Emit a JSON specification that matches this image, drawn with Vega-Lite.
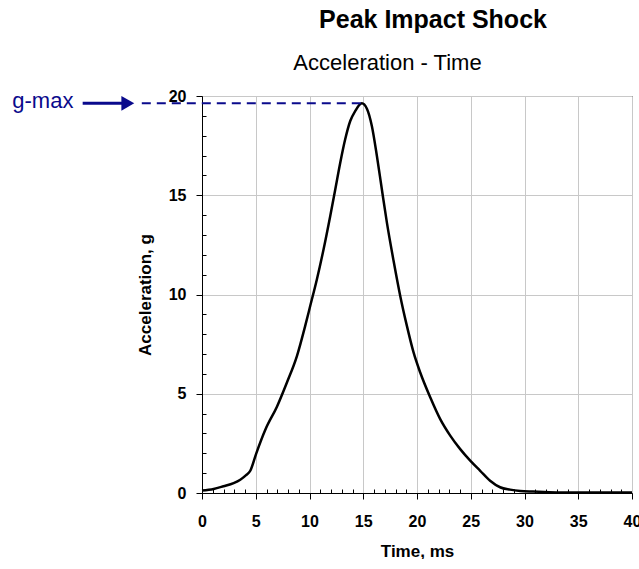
{
  "$schema": "https://vega.github.io/schema/vega-lite/v6.json",
  "width": 430,
  "height": 397,
  "padding": {"left": 12, "top": 8, "right": 0, "bottom": 0},
  "background": "white",
  "title": {
    "text": "Peak Impact Shock",
    "font": "Liberation Sans",
    "fontSize": 25,
    "fontWeight": "bold",
    "color": "black",
    "anchor": "middle",
    "dx": 16,
    "offset": 18
  },
  "config": {
    "view": {"stroke": "black", "strokeWidth": 1},
    "axis": {
      "labelFont": "Liberation Sans",
      "labelFontWeight": "bold",
      "labelFontSize": 16,
      "labelColor": "black",
      "titleFont": "Liberation Sans",
      "titleFontWeight": "bold",
      "titleFontSize": 17,
      "titleColor": "black",
      "domainColor": "black",
      "tickColor": "black",
      "gridColor": "#c8c8c8",
      "gridWidth": 1
    }
  },
  "resolve": {"axis": {"x": "independent", "y": "independent"}},
  "layer": [
    {
      "data": {
        "values": [
          {"t": 0, "g": 0.12}, {"t": 1.08, "g": 0.2}, {"t": 2.0, "g": 0.34}, {"t": 2.94, "g": 0.5},
          {"t": 3.56, "g": 0.67}, {"t": 4.1, "g": 0.9}, {"t": 4.49, "g": 1.12}, {"t": 5.05, "g": 2.0},
          {"t": 5.9, "g": 3.2}, {"t": 6.97, "g": 4.35}, {"t": 7.9, "g": 5.57}, {"t": 8.83, "g": 6.9},
          {"t": 9.6, "g": 8.42}, {"t": 10.07, "g": 9.43}, {"t": 10.69, "g": 10.77}, {"t": 11.31, "g": 12.28},
          {"t": 11.93, "g": 13.96}, {"t": 12.4, "g": 15.3}, {"t": 12.86, "g": 16.64}, {"t": 13.32, "g": 17.82},
          {"t": 13.79, "g": 18.74}, {"t": 14.25, "g": 19.24}, {"t": 14.87, "g": 19.63}, {"t": 15.34, "g": 19.36},
          {"t": 15.8, "g": 18.49}, {"t": 16.27, "g": 16.98}, {"t": 16.73, "g": 15.3}, {"t": 17.2, "g": 13.62},
          {"t": 17.82, "g": 11.7}, {"t": 18.44, "g": 9.93}, {"t": 19.06, "g": 8.42}, {"t": 19.68, "g": 7.08},
          {"t": 20.3, "g": 6.07}, {"t": 21.23, "g": 4.82}, {"t": 22.16, "g": 3.72}, {"t": 23.09, "g": 2.89},
          {"t": 24.02, "g": 2.21}, {"t": 24.95, "g": 1.63}, {"t": 25.88, "g": 1.12}, {"t": 26.8, "g": 0.62},
          {"t": 27.73, "g": 0.29}, {"t": 28.66, "g": 0.17}, {"t": 29.6, "g": 0.1}, {"t": 30.8, "g": 0.07},
          {"t": 33.0, "g": 0.03}, {"t": 36.1, "g": 0.03}, {"t": 40, "g": 0.03}
        ]
      },
      "mark": {"type": "line", "color": "black", "strokeWidth": 2.5, "interpolate": "monotone"},
      "encoding": {
        "x": {
          "field": "t", "type": "quantitative",
          "scale": {"domain": [0, 40], "nice": false, "zero": false},
          "axis": {
            "title": "Time, ms",
            "orient": "bottom",
            "values": [0,1,2,3,4,5,6,7,8,9,10,11,12,13,14,15,16,17,18,19,20,21,22,23,24,25,26,27,28,29,30,31,32,33,34,35,36,37,38,39,40],
            "labelExpr": "datum.value % 5 === 0 ? datum.label : ''",
            "tickSize": {"condition": {"test": "datum.value % 5 === 0", "value": 6}, "value": -4},
            "gridOpacity": {"condition": {"test": "datum.value % 5 === 0", "value": 1}, "value": 0},
            "labelPadding": 14,
            "titlePadding": 14,
            "labelFlush": false,
            "labelOverlap": false
          }
        },
        "y": {
          "field": "g", "type": "quantitative",
          "scale": {"domain": [0, 20], "nice": false},
          "axis": {
            "title": "Acceleration, g",
            "orient": "left",
            "values": [0,1,2,3,4,5,6,7,8,9,10,11,12,13,14,15,16,17,18,19,20],
            "labelExpr": "datum.value % 5 === 0 ? datum.label : ''",
            "tickSize": {"condition": {"test": "datum.value % 5 === 0", "value": 6}, "value": -4},
            "gridOpacity": {"condition": {"test": "datum.value % 5 === 0", "value": 1}, "value": 0},
            "labelPadding": 10,
            "titlePadding": 14,
            "labelFlush": false,
            "labelOverlap": false
          }
        }
      }
    },
    {
      "layer": [
        {
          "data": {"values": [{"t": -5.6, "t2": 14.87, "g": 19.63}]},
          "mark": {"type": "rule", "color": "#0a0a8c", "strokeWidth": 2, "strokeDash": [9, 6], "clip": false},
          "encoding": {
            "x": {"field": "t", "type": "quantitative"},
            "x2": {"field": "t2"},
            "y": {"field": "g", "type": "quantitative"}
          }
        },
        {
          "data": {"values": [{"t": -11.1, "t2": -7.2, "g": 19.63}]},
          "mark": {"type": "rule", "color": "#0a0a8c", "strokeWidth": 3, "clip": false},
          "encoding": {
            "x": {"field": "t", "type": "quantitative"},
            "x2": {"field": "t2"},
            "y": {"field": "g", "type": "quantitative"}
          }
        },
        {
          "data": {"values": [{"t": -6.9, "g": 19.63}]},
          "mark": {"type": "point", "shape": "triangle-right", "filled": true, "color": "#0a0a8c", "size": 220, "opacity": 1, "clip": false},
          "encoding": {
            "x": {"field": "t", "type": "quantitative"},
            "y": {"field": "g", "type": "quantitative"}
          }
        },
        {
          "data": {"values": [{"t": -17.65, "g": 19.75, "label": "g-max"}]},
          "mark": {"type": "text", "align": "left", "baseline": "middle", "font": "Liberation Sans", "fontSize": 22, "color": "#0a0a8c", "clip": false},
          "encoding": {
            "x": {"field": "t", "type": "quantitative"},
            "y": {"field": "g", "type": "quantitative"},
            "text": {"field": "label"}
          }
        }
      ],
      "encoding": {
        "x": {
          "axis": {
            "orient": "top",
            "title": "Acceleration - Time",
            "titleFontWeight": "normal",
            "titleFontSize": 22,
            "titleX": 185,
            "titlePadding": 22,
            "labels": false,
            "ticks": false,
            "domain": false,
            "grid": false
          }
        },
        "y": {"axis": null}
      }
    }
  ]
}
